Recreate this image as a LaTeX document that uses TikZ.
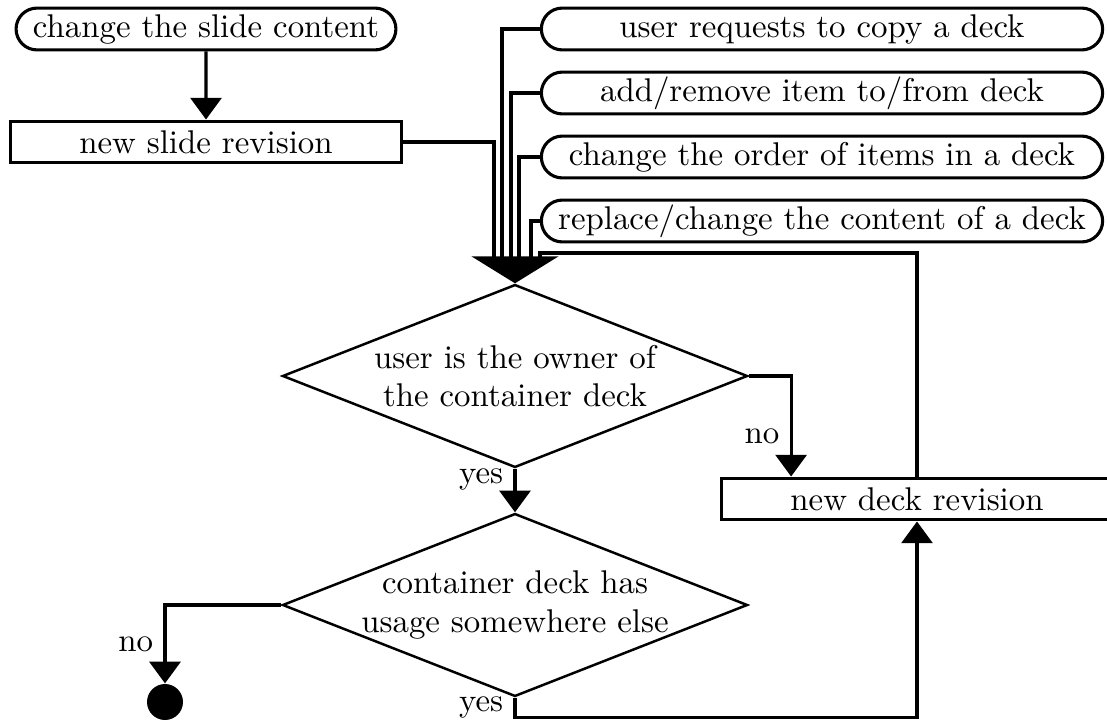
\documentclass[tikz,border=0pt]{standalone}
\usetikzlibrary{shapes.geometric,shapes.misc,arrows.meta}
\tikzset{
  event/.style={draw,rounded rectangle,line width=1pt,minimum height=13.5pt,inner sep=1pt},
  revision/.style={draw,rectangle,line width=1pt,minimum width=126pt,minimum height=13.5pt,inner sep=1pt},
  decision/.style={draw,diamond,aspect=2.56,line width=0.8pt,inner xsep=-5pt,inner ysep=-2pt,minimum width=150pt,minimum height=59pt,align=center},
  final/.style={circle,fill=black,minimum size=11.6pt,inner sep=0pt},
  flow/.style={line width=1pt,-{Triangle[length=7pt,width=10pt]}},
  feedline/.style={line width=1pt},
  mergeflow/.style={line width=1pt,-{Triangle[length=8.7pt,width=28pt]}}
}
\begin{document}
\begin{tikzpicture}
% 1 unit = 0.3225pt, y grows downwards
[x=0.3225pt,y=-0.3225pt,font=\fontsize{10.6}{12.3}\selectfont]
\useasboundingbox (0,0) rectangle (1107,720);
% events
\node[event,minimum width=124.5pt] (slidechange) at (206,29) {change the slide content};
\node[event,minimum width=183pt] (copy) at (822,29) {user requests to copy a deck};
\node[event,minimum width=183pt] (additem) at (822,93) {add/remove item to/from deck};
\node[event,minimum width=183pt] (order) at (822,157) {change the order of items in a deck};
\node[event,minimum width=183pt] (replace) at (822,221) {replace/change the content of a deck};
% revisions
\node[revision] (sliderev) at (206,142) {new slide revision};
\node[revision] (deckrev) at (917,499) {new deck revision};
% decisions
\node[decision] (owner) at (515,376) {user is the owner of\\the container deck};
\node[decision] (usage) at (515,605) {container deck has\\usage somewhere else};
\node[final] (stop) at (165,702) {};
% flows
\draw[flow] (slidechange) -- (sliderev);
\coordinate (mergept) at (515,259);
\foreach \src/\xx in {sliderev.east/494,copy.west/502,additem.west/511,order.west/519,replace.west/531}
  \draw[feedline] (\src) -| (\xx,266);
\draw[feedline] (deckrev.north) |- (540,253) -- (540,266);
\draw[mergeflow] (mergept) -- (owner.north);
\draw[flow] (owner.south) -- node[pos=0.25,left] {yes} (usage.north);
\draw[flow] (owner.east) -| node[pos=0.8,left] {no} ([xshift=-40.6pt]deckrev.north);
\draw[flow] (usage.south) -- node[left] {yes} ++(0,20) -| (deckrev.south);
\draw[flow] (usage.west) -| node[pos=0.75,left] {no} (stop);
\end{tikzpicture}
\end{document}
